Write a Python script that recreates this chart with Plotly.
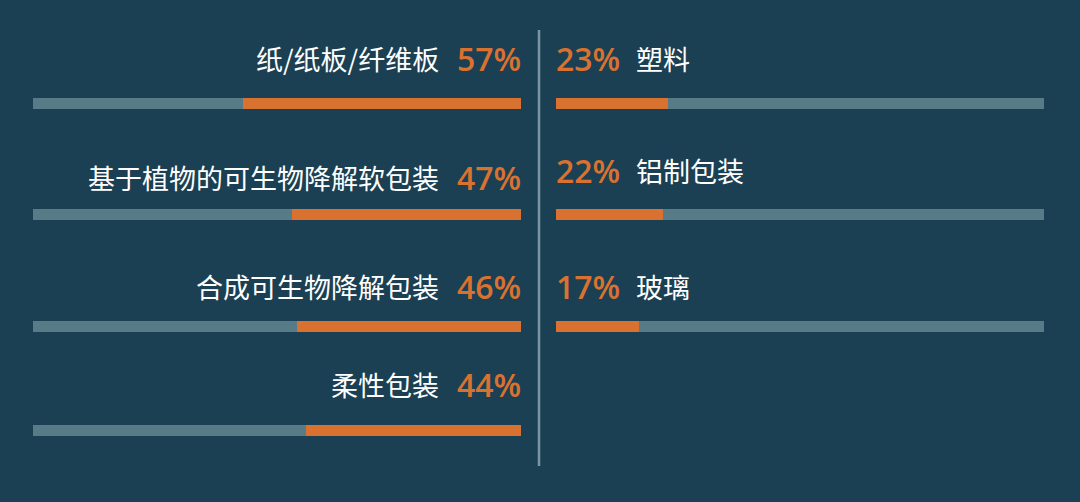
import plotly.graph_objects as go

# left column (orange bar grows from the right edge)
left_labels = ["纸/纸板/纤维板", "基于植物的可生物降解软包装", "合成可生物降解包装", "柔性包装"]
left_values = [57, 47, 46, 44]

# right column (orange bar grows from the left edge)
right_labels = ["塑料", "铝制包装", "玻璃"]
right_values = [23, 22, 17]

BG = "#1b4053"
ORANGE = "#d97230"
TRACK = "#587b88"
W, H = 1080, 502

# layout positions (pixels from top)
bar_y = [103.5, 214.5, 326, 430.5]
left_text_y = [58, 177, 286, 384]
right_text_y = [58, 170, 286]

fig = go.Figure()

# tracks
fig.add_trace(go.Bar(x=[100] * len(left_values), y=bar_y[:len(left_values)], orientation="h",
                     width=11, marker=dict(color=TRACK, line_width=0), xaxis="x", yaxis="y",
                     hoverinfo="skip"))
fig.add_trace(go.Bar(x=[100] * len(right_values), y=bar_y[:len(right_values)], orientation="h",
                     width=11, marker=dict(color=TRACK, line_width=0), xaxis="x2", yaxis="y",
                     hoverinfo="skip"))
# values
fig.add_trace(go.Bar(x=left_values, y=bar_y[:len(left_values)], orientation="h",
                     width=11, marker=dict(color=ORANGE, line_width=0), xaxis="x", yaxis="y"))
fig.add_trace(go.Bar(x=right_values, y=bar_y[:len(right_values)], orientation="h",
                     width=11, marker=dict(color=ORANGE, line_width=0), xaxis="x2", yaxis="y"))

pct_font = dict(family="Open Sans", size=32, color=ORANGE, weight=600)
lab_font = dict(family="Noto Sans CJK SC", size=27, color="white")

ann = []
for lab, v, ty in zip(left_labels, left_values, left_text_y):
    ann.append(dict(x=523 / W, y=ty, xref="paper", yref="y", text=f"{v}%", showarrow=False,
                    xanchor="right", yanchor="middle", font=pct_font))
    ann.append(dict(x=441 / W, y=ty, xref="paper", yref="y", text=lab, showarrow=False,
                    xanchor="right", yanchor="middle", font=lab_font))
for lab, v, ty in zip(right_labels, right_values, right_text_y):
    ann.append(dict(x=554 / W, y=ty, xref="paper", yref="y", text=f"{v}%", showarrow=False,
                    xanchor="left", yanchor="middle", font=pct_font))
    ann.append(dict(x=634 / W, y=ty, xref="paper", yref="y", text=lab, showarrow=False,
                    xanchor="left", yanchor="middle", font=lab_font))

fig.update_layout(
    width=W, height=H,
    margin=dict(l=0, r=0, t=0, b=0),
    paper_bgcolor=BG, plot_bgcolor=BG,
    barmode="overlay", bargap=0,
    showlegend=False,
    xaxis=dict(domain=[33 / W, 521 / W], range=[100, 0], visible=False, fixedrange=True),
    xaxis2=dict(domain=[556 / W, 1044 / W], range=[0, 100], visible=False, fixedrange=True,
                anchor="y"),
    yaxis=dict(domain=[0, 1], range=[H, 0], visible=False, fixedrange=True),
    annotations=ann,
    shapes=[dict(type="line", xref="paper", yref="y", x0=539 / W, x1=539 / W, y0=30, y1=466,
                 line=dict(color="#7b96a2", width=2.5))],
)

# drop the page margin so the chart fills the window
fig.write_html("out.html", config={"displayModeBar": False},
               post_script="document.body.style.margin='0';document.body.style.background='%s';" % BG)
